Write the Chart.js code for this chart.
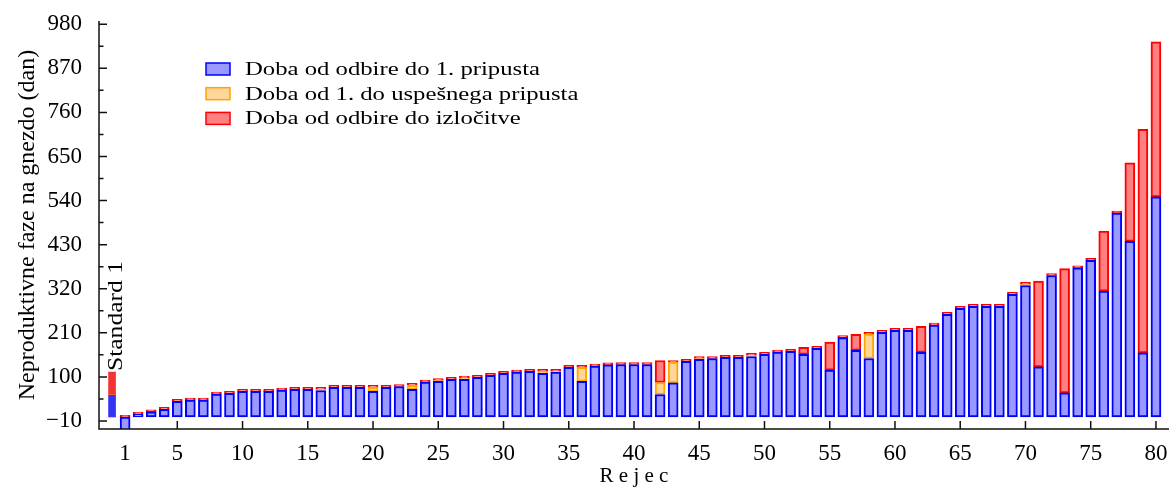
<!DOCTYPE html>
<html>
<head>
<meta charset="utf-8">
<script src="https://cdn.jsdelivr.net/npm/chart.js@4.4.0/dist/chart.umd.min.js"></script>
<style>
  body { margin: 0; background: #fff; }
</style>
</head>
<body>
<canvas id="chart" width="1171" height="489"></canvas>
<script>
// rejec 1..80 (categories on the x axis)
const rejec = Array.from({ length: 80 }, (_, i) => i + 1);

// Doba od odbire do 1. pripusta
const odbireDoPripusta = [
  -40, 7, 13, 19, 39, 42, 42, 57, 59, 64,
  64, 64, 67, 69, 69, 66, 74, 74, 74, 64,
  74, 76, 69, 87, 89, 94, 94, 99, 104, 109,
  112, 114, 109, 112, 124, 89, 127, 130, 131, 131,
  131, 56, 85, 139, 144, 146, 149, 149, 151, 156,
  162, 164, 156, 171, 117, 198, 166, 146, 211, 216,
  216, 161, 229, 256, 271, 276, 276, 276, 306, 328,
  125, 353, 60, 372, 391, 314, 509, 438, 160, 549
];
// Doba od 1. do uspesnega pripusta
const doUspesnega = [
  0, 0, 0, 0, 0, 0, 0, 0, 0, 0,
  0, 0, 0, 0, 0, 3, 0, 0, 0, 10,
  0, 0, 10, 0, 2, 0, 3, 0, 0, 0,
  0, 0, 5, 2, 0, 35, 0, 0, 0, 0,
  0, 30, 52, 0, 2, 0, 0, 0, 3, 0,
  0, 0, 0, 0, 0, 0, 0, 61, 0, 0,
  0, 0, 0, 0, 0, 0, 0, 0, 0, 3,
  0, 0, 0, 0, 0, 0, 0, 0, 0, 0
];
// Doba od odbire do izlocitve
const doIzlocitve = [
  4, 5, 5, 5, 5, 5, 5, 5, 5, 5,
  5, 5, 5, 5, 5, 5, 5, 5, 5, 5,
  5, 5, 5, 5, 5, 5, 5, 5, 5, 5,
  5, 5, 5, 5, 5, 5, 5, 5, 5, 5,
  5, 55, 4, 5, 5, 5, 5, 5, 5, 5,
  5, 5, 18, 5, 70, 5, 40, 4, 5, 5,
  5, 65, 5, 5, 5, 5, 5, 5, 5, 5,
  214, 5, 310, 5, 5, 150, 5, 196, 558, 387
];

// Standard 1: [do 1. pripusta, do uspesnega, do izlocitve]
const standard = [54, 1, 57];

const seriesNames = [
  'Doba od odbire do 1. pripusta',
  'Doba od 1. do uspešnega pripusta',
  'Doba od odbire do izločitve'
];

const xTicks = [1, 5, 10, 15, 20, 25, 30, 35, 40, 45, 50, 55, 60, 65, 70, 75, 80];
const yTicks = [-10, 100, 210, 320, 430, 540, 650, 760, 870, 980];

const fills = ['#9999ff', '#ffd699', '#ff8080'];
const borders = ['#0000ff', '#ffa500', '#ff0000'];
const stdFills = ['#3434f2', '#ffa500', '#f23434'];

const tickFont = { family: 'Liberation Serif', size: 23 };

const toPoints = arr => arr.map((v, i) => ({ x: rejec[i], y: v }));

const mainSets = [odbireDoPripusta, doUspesnega, doIzlocitve].map((arr, k) => ({
  label: seriesNames[k],
  data: toPoints(arr),
  backgroundColor: fills[k],
  borderColor: borders[k],
  borderWidth: 2,
  borderSkipped: false,
  barThickness: 10
}));

const stdSets = standard.map((v, k) => ({
  label: 'Standard 1 ' + k,
  data: [{ x: 0, y: v }],
  backgroundColor: stdFills[k],
  borderWidth: 0,
  barThickness: 7
}));

const extras = {
  id: 'extras',
  afterDatasetsDraw(chart) {
    const { ctx, chartArea, scales } = chart;
    const { left, right, top, bottom } = chartArea;
    const x = scales.x, y = scales.y;
    ctx.save();

    // axes with inward ticks
    ctx.strokeStyle = '#111';
    ctx.lineWidth = 1.5;
    ctx.beginPath();
    ctx.moveTo(left, top);
    ctx.lineTo(left, bottom);
    ctx.lineTo(right, bottom);
    yTicks.forEach((v, i) => {
      const p = y.getPixelForValue(v);
      ctx.moveTo(left, p);
      ctx.lineTo(left + 8, p);
      if (i < yTicks.length - 1) {
        const m = y.getPixelForValue((v + yTicks[i + 1]) / 2);
        ctx.moveTo(left, m);
        ctx.lineTo(left + 4.5, m);
      }
    });
    xTicks.filter(v => v % 5 === 0).forEach(v => {
      const p = x.getPixelForValue(v);
      ctx.moveTo(p, bottom);
      ctx.lineTo(p, bottom - 8);
    });
    ctx.stroke();

    // Standard 1 label above its bar
    const stdTop = chart.getDatasetMeta(5).data[0];
    ctx.fillStyle = '#000';
    ctx.font = '20px "Liberation Serif"';
    ctx.translate(stdTop.x + 10, stdTop.y - 1);
    ctx.rotate(-Math.PI / 2);
    ctx.scale(1.28, 1);
    ctx.textAlign = 'left';
    ctx.textBaseline = 'alphabetic';
    ctx.fillText('Standard 1', 0, 0);
    ctx.setTransform(1, 0, 0, 1, 0, 0);

    // legend
    ctx.textBaseline = 'middle';
    ctx.textAlign = 'left';
    for (let k = 0; k < 3; k++) {
      const by = 63 + k * 24.7;
      ctx.fillStyle = fills[k];
      ctx.fillRect(206, by, 24, 12);
      ctx.strokeStyle = borders[k];
      ctx.lineWidth = 1.5;
      ctx.strokeRect(206, by, 24, 12);
      ctx.save();
      ctx.translate(245, by + 7);
      ctx.scale(1.3, 1);
      ctx.font = '19px "Liberation Serif"';
      ctx.fillStyle = '#000';
      ctx.fillText(chart.data.datasets[k].label, 0, 0);
      ctx.restore();
    }
    ctx.restore();
  }
};

new Chart(document.getElementById('chart'), {
  type: 'bar',
  data: { datasets: [...mainSets, ...stdSets] },
  options: {
    responsive: false,
    animation: false,
    devicePixelRatio: 1,
    layout: { padding: { top: 21, right: 2, left: 0, bottom: 0 } },
    plugins: { legend: { display: false }, tooltip: { enabled: false } },
    scales: {
      x: {
        type: 'linear',
        offset: false,
        stacked: true,
        min: -1,
        max: 81,
        grid: { display: false, drawTicks: false, tickLength: 0, offset: false },
        border: { display: false },
        afterBuildTicks: s => { s.ticks = xTicks.map(v => ({ value: v })); },
        afterFit: s => { s.height = 60; s.paddingLeft = 0; s.paddingRight = 0; },
        ticks: { font: tickFont, color: '#000', padding: 11, maxRotation: 0, autoSkip: false },
        title: {
          display: true, text: 'R e j e c', color: '#000',
          font: { family: 'Liberation Serif', size: 21 }, padding: { top: 0, bottom: 0 }
        }
      },
      y: {
        type: 'linear',
        stacked: true,
        min: -30,
        max: 988,
        grid: { display: false, drawTicks: false, tickLength: 0 },
        border: { display: false },
        afterBuildTicks: s => { s.ticks = yTicks.map(v => ({ value: v })); },
        afterFit: s => { s.width = 99; s.paddingTop = 0; s.paddingBottom = 0; },
        ticks: {
          font: tickFont, color: '#000', padding: 17, autoSkip: false,
          callback: v => (v < 0 ? '\u2212' + Math.abs(v) : v)
        },
        title: {
          display: true, text: 'Neproduktivne faze na gnezdo (dan)', color: '#000',
          font: { family: 'Liberation Serif', size: 24 }, padding: { top: 13, bottom: 0 }
        }
      }
    }
  },
  plugins: [extras]
});
</script>
</body>
</html>
